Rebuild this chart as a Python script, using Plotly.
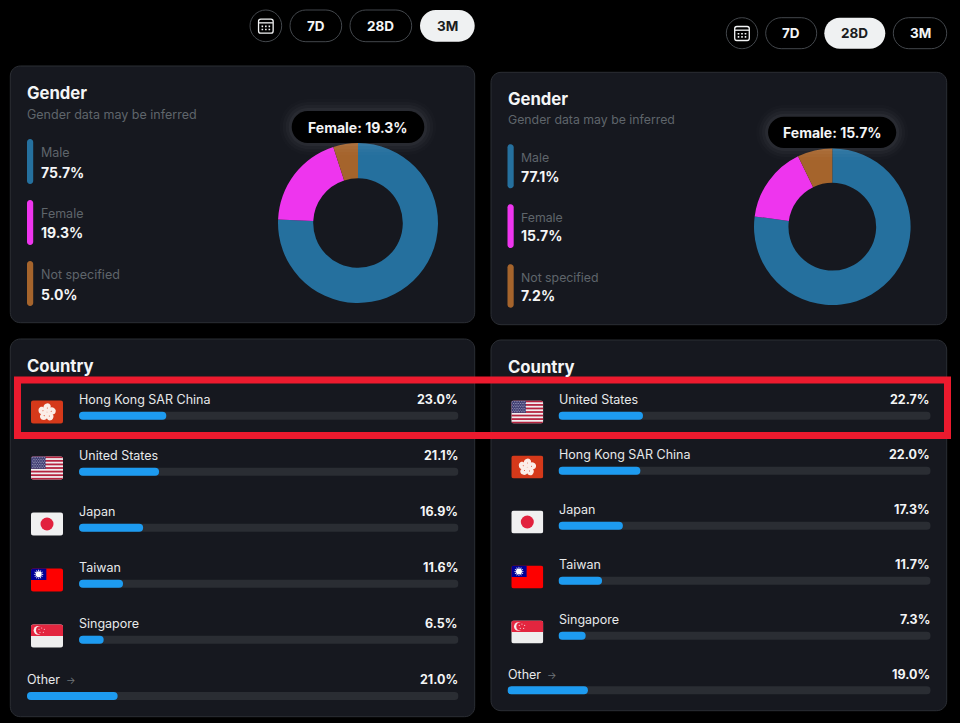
import base64
import plotly.graph_objects as go

W, H = 960, 723

# ---- audience figures ----
gender_labels = ["Male", "Female", "Not specified"]
gender_3m = [75.7, 19.3, 5.0]
gender_28d = [77.1, 15.7, 7.2]

countries_3m = ["Hong Kong SAR China", "United States", "Japan", "Taiwan", "Singapore"]
country_values_3m = [23.0, 21.1, 16.9, 11.6, 6.5]
other_3m = 21.0

countries_28d = ["United States", "Hong Kong SAR China", "Japan", "Taiwan", "Singapore"]
country_values_28d = [22.7, 22.0, 17.3, 11.7, 7.3]
other_28d = 19.0

# ---- palette ----
BG = "#000000"
CARD = "#16181f"
CARD_EDGE = "#2b2e34"
TRACK = "#2a2d33"
FILL = "#1d9bf0"
MALE = "#25709e"
FEMALE = "#ee35ee"
UNSPEC = "#a5642c"
TEXT = "#e7e9ea"
WHITE = "#f4f5f6"
MUTED = "#5f656b"
RED = "#ec1a2e"
FONT = "Inter"

fig = go.Figure()
shapes, annots, images = [], [], []


def px(x):
    return x / W


def py(y):
    return 1 - y / H


def round_rect(x0, y0, x1, y1, r, fill=None, edge=None, lw=0, layer="below"):
    k = 0.45 * r
    pts = [
        f"M{px(x0 + r)},{py(y0)}",
        f"L{px(x1 - r)},{py(y0)}",
        f"C{px(x1 - k)},{py(y0)} {px(x1)},{py(y0 + k)} {px(x1)},{py(y0 + r)}",
        f"L{px(x1)},{py(y1 - r)}",
        f"C{px(x1)},{py(y1 - k)} {px(x1 - k)},{py(y1)} {px(x1 - r)},{py(y1)}",
        f"L{px(x0 + r)},{py(y1)}",
        f"C{px(x0 + k)},{py(y1)} {px(x0)},{py(y1 - k)} {px(x0)},{py(y1 - r)}",
        f"L{px(x0)},{py(y0 + r)}",
        f"C{px(x0)},{py(y0 + k)} {px(x0 + k)},{py(y0)} {px(x0 + r)},{py(y0)}",
        "Z",
    ]
    shapes.append(dict(
        type="path", xref="paper", yref="paper", path=" ".join(pts),
        fillcolor=fill if fill else "rgba(0,0,0,0)",
        line=dict(color=edge if edge else "rgba(0,0,0,0)", width=lw),
        layer=layer,
    ))


def label(x, y, text, size=12.5, color=TEXT, weight=400, anchor="left"):
    # Annotation boxes carry a 1px inset on their left edge
    nudge = -1 if anchor == "left" else 0
    annots.append(dict(
        xref="paper", yref="paper", x=px(x + nudge), y=py(y), text=text, showarrow=False,
        xanchor=anchor, yanchor="middle", borderpad=0,
        font=dict(family=FONT, size=size, color=color, weight=weight),
    ))


# ---- flag icons, stored as small inline vector images ----
def flag_svg(body):
    svg = (
        '<svg xmlns="http://www.w3.org/2000/svg" viewBox="0 0 96 70" width="96" height="70">'
        '<defs><clipPath id="c"><rect width="96" height="70" rx="8"/></clipPath></defs>'
        f'<g clip-path="url(#c)">{body}</g></svg>'
    )
    return "data:image/svg+xml;base64," + base64.b64encode(svg.encode()).decode()


def us_flag():
    parts = ['<rect width="96" height="70" fill="#f0eef0"/>']
    for i in range(0, 13, 2):
        parts.append(f'<rect y="{i * 70 / 13:.2f}" width="96" height="{70 / 13:.2f}" fill="#b5233f"/>')
    parts.append('<rect width="44" height="37.7" fill="#3f3d72"/>')
    for row in range(7):
        for col in range(8):
            cx = 4 + col * 5.2 + (row % 2) * 2.6
            cy = 4 + row * 5
            parts.append(f'<circle cx="{cx:.1f}" cy="{cy:.1f}" r="1.4" fill="#d8d8e8"/>')
    return flag_svg("".join(parts))


def hk_flag():
    petals = "".join(
        f'<path transform="rotate({a} 48 36)" d="M48 36 C33 28 34 11 50 9 C65 12 60 28 48 36 Z" fill="#fbeee8"/>'
        f'<circle transform="rotate({a} 48 36)" cx="49" cy="23" r="1.5" fill="#d5391a"/>'
        for a in (0, 72, 144, 216, 288)
    )
    return flag_svg(f'<rect width="96" height="70" fill="#d5391a"/>{petals}')


def jp_flag():
    return flag_svg('<rect width="96" height="70" fill="#f0f0f1"/><circle cx="48" cy="35" r="19.5" fill="#e2213e"/>')


def tw_flag():
    rays = "".join(
        f'<path transform="rotate({a} 23 18)" d="M21 8 L25 8 L23 3 Z" fill="#fff"/>' for a in range(0, 360, 30)
    )
    return flag_svg(
        '<rect width="96" height="70" fill="#fe0000"/><rect width="46" height="35" fill="#000095"/>'
        f'{rays}<circle cx="23" cy="18" r="9" fill="#fff"/>'
    )


def sg_flag():
    stars = "".join(
        f'<circle cx="{x}" cy="{y}" r="1.8" fill="#f7c8ce"/>'
        for x, y in ((32, 11), (24, 15), (40, 15), (27, 24), (37, 24))
    )
    return flag_svg(
        '<rect width="96" height="70" fill="#eeeeee"/><rect width="96" height="35" fill="#e3263f"/>'
        '<circle cx="21" cy="18" r="13" fill="#f7eeee"/><circle cx="27" cy="18" r="12" fill="#e3263f"/>'
        + stars
    )


FLAGS = {
    "Hong Kong SAR China": hk_flag(),
    "United States": us_flag(),
    "Japan": jp_flag(),
    "Taiwan": tw_flag(),
    "Singapore": sg_flag(),
}


def calendar_icon(cx, cy):
    round_rect(cx - 7.3, cy - 6.7, cx + 7.3, cy + 7.3, 2.2, None, WHITE, 1.3, "above")
    shapes.append(dict(type="line", xref="paper", yref="paper", x0=px(cx - 7), x1=px(cx + 7),
                       y0=py(cy - 3), y1=py(cy - 3), line=dict(color=WHITE, width=1.3)))
    for dx in (-3.5, 0, 3.5):
        for dy in (0.5, 3.7):
            round_rect(cx + dx - 0.8, cy + dy - 0.8, cx + dx + 0.8, cy + dy + 0.8, 0.3, WHITE, layer="above")


def range_buttons(circle, pills, top, bottom, active):
    x0, x1 = circle
    round_rect(x0, top, x1, bottom, (bottom - top) / 2, BG, "#43474c", 1)
    calendar_icon((x0 + x1) / 2, (top + bottom) / 2)
    for name, (a, b) in pills.items():
        on = name == active
        round_rect(a, top, b, bottom, (bottom - top) / 2, "#eff1f2" if on else BG, None if on else "#43474c", 1)
        label((a + b) / 2, (top + bottom) / 2, name, 13.5, "#1a1c20" if on else WHITE, 700, "center")


def tooltip(x0, y0, x1, y1, text):
    # Soft halo around the pill
    for grow, alpha in ((12, 0.012), (9, 0.018), (6, 0.025), (3, 0.035)):
        round_rect(x0 - grow, y0 - grow, x1 + grow, y1 + grow, 16 + grow,
                   f"rgba(255,255,255,{alpha})", layer="above")
    round_rect(x0, y0, x1, y1, 16, "#000000", layer="above")
    label((x0 + x1) / 2, (y0 + y1) / 2, text, 14, WHITE, 700, "center")


def gender_card(box, values, title_y, sub_y, bar_x, bars, text_x, rows, donut, tip, sub_size):
    x0, y0, x1, y1 = box
    round_rect(x0, y0, x1, y1, 10, CARD, CARD_EDGE, 1)
    label(bar_x, title_y, "Gender", 16.7, WHITE, 700)
    label(bar_x, sub_y, "Gender data may be inferred", sub_size, MUTED)
    colors = [MALE, FEMALE, UNSPEC]
    for name, val, col, (a, b), (ly, vy) in zip(gender_labels, values, colors, bars, rows):
        round_rect(bar_x, a, bar_x + 6.2, b, 3, col)
        label(text_x, ly, name, sub_size, MUTED)
        label(text_x, vy, f"{val:.1f}%", 14, WHITE, 700)
    cx, cy, r = donut
    fig.add_trace(go.Pie(
        labels=gender_labels, values=values, hole=0.56, sort=False, direction="clockwise",
        rotation=0, textinfo="none", hoverinfo="label+percent", showlegend=False,
        marker=dict(colors=colors, line=dict(width=0)),
        domain=dict(x=[px(cx - r), px(cx + r)], y=[py(cy + r), py(cy - r)]),
    ))
    tooltip(*tip, f"Female: {values[1]:.1f}%")


axis_count = 0


def bar_row_axes(left, right, top, bottom, names):
    global axis_count
    axis_count += 1
    suffix = "" if axis_count == 1 else str(axis_count)
    common = dict(visible=False, fixedrange=True)
    fig.update_layout(**{
        f"xaxis{suffix}": dict(domain=[px(left), px(right)], range=[0, 100], anchor=f"y{suffix}", **common),
        f"yaxis{suffix}": dict(domain=[py(bottom), py(top)], type="category", categoryorder="array",
                               categoryarray=names, range=[len(names) - 0.5, -0.5],
                               anchor=f"x{suffix}", **common),
    })
    return f"x{suffix}", f"y{suffix}"


def draw_bars(names, values, left, right, top, bottom):
    xa, ya = bar_row_axes(left, right, top, bottom, names)
    thickness = 8 / ((bottom - top) / len(names))
    n = len(names)
    # An explicit base makes barcornerradius round both ends of each bar
    for totals, color in (([100.0] * n, TRACK), (values, FILL)):
        fig.add_trace(go.Bar(
            y=names, x=totals, base=[0] * n, orientation="h",
            width=thickness, marker=dict(color=color, line=dict(width=0)), xaxis=xa, yaxis=ya,
            hoverinfo="skip", showlegend=False,
        ))


def country_card(box, title_y, names, values, other, flag_x, flag_ys, flag_h, track, rows,
                 text_offset, other_x, other_row, other_text_y):
    x0, y0, x1, y1 = box
    left, right = track
    round_rect(x0, y0, x1, y1, 10, CARD, CARD_EDGE, 1)
    label(other_x, title_y, "Country", 16.7, WHITE, 700)
    step = rows[1] - rows[0]
    draw_bars(names, values, left, right, rows[0] - step / 2, rows[-1] + step / 2)
    draw_bars(["Other"], [other], other_x, right, other_row - 8, other_row + 8)
    for name, val, row, fy in zip(names, values, rows, flag_ys):
        label(left, row - text_offset, name, 12.5, TEXT)
        label(right, row - text_offset, f"{val:.1f}%", 12.5, WHITE, 700, "right")
        images.append(dict(
            source=FLAGS[name], xref="paper", yref="paper", x=px(flag_x), y=py(fy - flag_h / 2),
            sizex=32 / W, sizey=flag_h / H, sizing="stretch", xanchor="left", yanchor="top", layer="above",
        ))
    label(other_x, other_text_y, "Other", 12.5, TEXT)
    label(other_x + 39, other_text_y, "→", 10, "#71767b")
    label(right, other_text_y, f"{other:.1f}%", 12.5, WHITE, 700, "right")


# ---- three-month column ----
range_buttons((250, 281.7), {"7D": (290, 341.7), "28D": (350, 411.7), "3M": (420, 474.7)}, 10, 41.7, "3M")
gender_card(
    (10.3, 66, 474.7, 322.7), gender_3m, 93, 114.5, 27,
    [(139, 184), (200, 245), (261, 306)], 41,
    [(152, 172), (213, 233), (274, 294)],
    (358, 223, 80), (291.7, 111, 424.3, 143), 12.5,
)
country_card(
    (10.3, 339, 474.7, 716.7), 366, countries_3m, country_values_3m, other_3m,
    31, [412, 468, 524, 580, 636], 23.3, (79, 458.5),
    [415.8, 471.8, 527.8, 583.8, 639.8], 16.5, 27, 696, 679.5,
)

# ---- 28-day column ----
range_buttons((726.3, 757.7), {"7D": (765.7, 816.7), "28D": (824.3, 885.3), "3M": (893.3, 946.7)}, 17.7, 48.7, "28D")
gender_card(
    (491, 72.3, 946.7, 324.7), gender_28d, 99, 120, 507.5,
    [(144.3, 188.3), (204.3, 248), (264.3, 307.7)], 521.3,
    [(157.3, 176), (217.3, 236), (277, 295.7)],
    (832.3, 226.7, 78.3), (768, 116.7, 896.3, 148), 12.3,
)
country_card(
    (491, 340, 946.7, 710.7), 367, countries_28d, country_values_28d, other_28d,
    511.3, [412, 467, 522, 577, 632], 23, (558.5, 930.7),
    [415.7, 470.7, 525.7, 580.7, 635.7], 16.5, 507.5, 690.3, 674.5,
)

# Highlight frame across the top country row of both columns
shapes.append(dict(
    type="rect", xref="paper", yref="paper", x0=px(17.5), x1=px(947.5), y0=py(380), y1=py(435.5),
    line=dict(color=RED, width=7), fillcolor="rgba(0,0,0,0)", layer="above",
))

fig.update_layout(
    width=W, height=H, autosize=False,
    margin=dict(l=0, r=0, t=0, b=0, pad=0),
    paper_bgcolor=BG, plot_bgcolor="rgba(0,0,0,0)",
    barmode="overlay", barcornerradius=4,
    showlegend=False, shapes=shapes, annotations=annots, images=images,
)

fig.write_html("out.html", config=dict(displayModeBar=False, responsive=False))
